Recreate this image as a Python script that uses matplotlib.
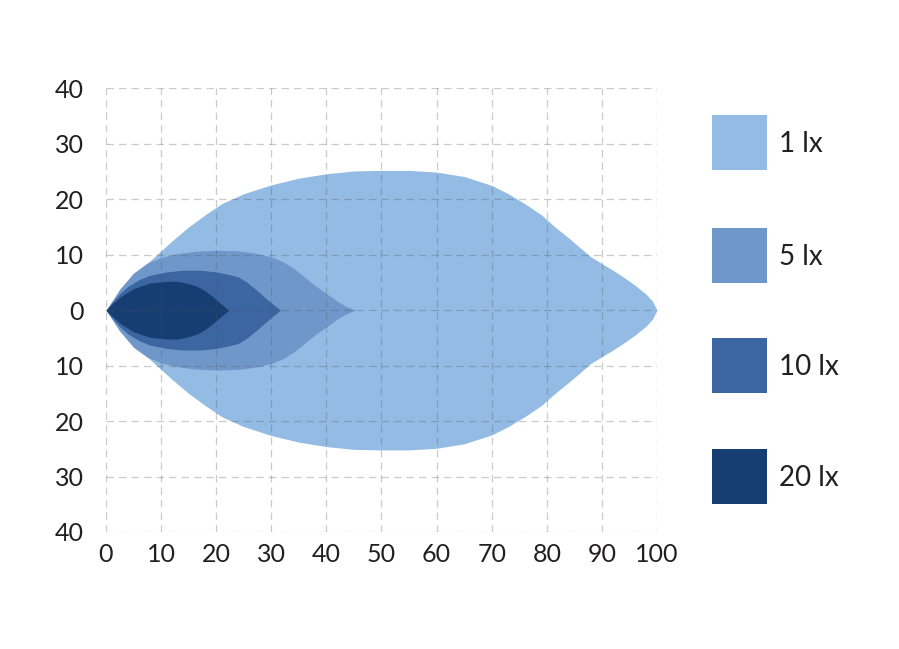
import matplotlib
matplotlib.use("Agg")
import matplotlib.pyplot as plt
from matplotlib.patches import Rectangle
from matplotlib.ticker import FuncFormatter

plt.rcParams["font.family"] = ["Lato", "DejaVu Sans"]

# half-widths of the illuminance zones (symmetric about the axis)
x_1lx = [0, 1, 2.6, 5, 7, 9, 12, 15, 18, 21, 25, 30, 35, 40, 45, 50, 55, 60,
         65, 70, 73, 76, 79, 81.5, 84, 86, 88, 90, 92, 94, 96, 98, 99.2, 100]
y_1lx = [0, 1.4, 3.4, 5.9, 8.0, 9.8, 12.5, 15, 17.2, 19.2, 21, 22.6, 23.8,
         24.6, 25.1, 25.2, 25.2, 24.9, 24.1, 22.5, 21.0, 19.2, 17.2, 15,
         13.0, 11.3, 9.6, 8.4, 7.2, 5.9, 4.5, 2.9, 1.6, 0]

x_5lx = [0, 1, 2.5, 5, 7.5, 10, 13, 16, 20, 24, 27, 30, 32, 34, 36, 38, 40,
         42, 43.5, 45.3]
y_5lx = [0, 1.5, 3.8, 6.7, 8.5, 9.5, 10.2, 10.6, 10.8, 10.7, 10.3, 9.6, 8.8,
         7.6, 6.0, 4.4, 3.0, 1.6, 0.7, 0]

x_10lx = [0, 1, 2.5, 4, 6, 8, 11, 14, 17, 20, 22, 24, 25.5, 27, 28.5, 30,
          31.7]
y_10lx = [0, 1.3, 3.0, 4.3, 5.5, 6.3, 6.9, 7.2, 7.2, 6.9, 6.5, 6.0, 5.1, 3.9,
          2.6, 1.3, 0]

x_20lx = [0, 1, 2.6, 5, 8, 11, 13, 15, 16.5, 17.8, 19.3, 20.8, 22.3]
y_20lx = [0, 1.0, 2.4, 3.9, 4.9, 5.2, 5.2, 4.8, 4.3, 3.6, 2.5, 1.2, 0]

labels = ["1 lx", "5 lx", "10 lx", "20 lx"]
colors = ["#93bbe3", "#6f97c9", "#3c66a1", "#173e72"]

fig = plt.figure(figsize=(8.99, 6.49), dpi=100)
ax = fig.add_axes([0.1179, 0.1803, 0.6129, 0.6836])

zones = [(x_1lx, y_1lx), (x_5lx, y_5lx), (x_10lx, y_10lx), (x_20lx, y_20lx)]
for (xs, ys), c in zip(zones, colors):
    ax.fill_between(xs, [-v for v in ys], ys, color=c, linewidth=0, zorder=1)

ax.set_xlim(0, 100)
ax.set_ylim(-40, 40)
ax.set_xticks(range(0, 101, 10))
ax.set_yticks(range(-40, 41, 10))
ax.yaxis.set_major_formatter(FuncFormatter(lambda v, p: f"{abs(int(v))}"))
ax.grid(True, color="#555555", alpha=0.3, linestyle=(0, (6, 4)),
        linewidth=0.9, zorder=2)
ax.set_axisbelow(False)
for s in ax.spines.values():
    s.set_visible(False)
ax.tick_params(length=0, labelsize=18, colors="#231f20")
ax.tick_params(axis="y", pad=16)
ax.tick_params(axis="x", pad=8)

# legend drawn as squares on the right
W, H = 899, 649
tops = [115, 228, 338, 449]
for top, c, lab in zip(tops, colors, labels):
    fig.patches.append(Rectangle((712 / W, 1 - (top + 55) / H), 55 / W, 55 / H,
                                 transform=fig.transFigure, facecolor=c,
                                 edgecolor="none"))
    fig.text(779 / W, 1 - (top + 29) / H, lab, fontsize=20, color="#231f20",
             va="center", ha="left")

fig.savefig("out.png", dpi=100, facecolor="white")
